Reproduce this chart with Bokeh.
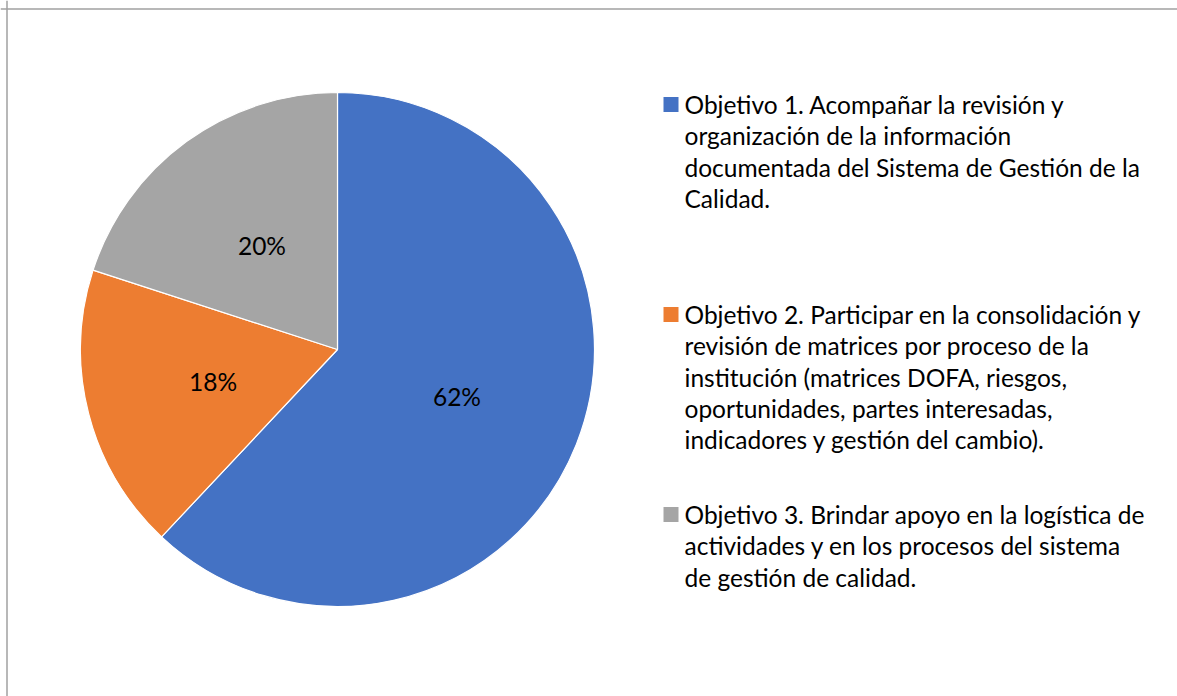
import numpy as np
from bokeh.plotting import figure
from bokeh.models import Range1d, Span
from bokeh.core.properties import value
from bokeh.embed import file_html
from bokeh.resources import INLINE

# ---- data ----
categories = [
    "Objetivo 1. Acompañar la revisión y\norganización de la información\ndocumentada del Sistema de Gestión de la\nCalidad.",
    "Objetivo 2. Participar en la consolidación y\nrevisión de matrices por proceso de la\ninstitución (matrices DOFA, riesgos,\noportunidades, partes interesadas,\nindicadores y gestión del cambio).",
    "Objetivo 3. Brindar apoyo en la logística de\nactividades y en los procesos del sistema\nde gestión de calidad.",
]
shares = [62, 18, 20]
pct_labels = ["62%", "18%", "20%"]
colors = ["#4472C4", "#ED7D31", "#A5A5A5"]

# ---- layout ----
W, H = 1177, 696
FONT = "Lato"
FS = "24.5px"
cx, cy, R = 337, H - 349, 257

p = figure(width=W, height=H, x_range=Range1d(0, W), y_range=Range1d(0, H),
           output_backend="svg", toolbar_location=None, min_border=0,
           x_axis_type=None, y_axis_type=None)
p.grid.visible = False
p.outline_line_color = None
p.background_fill_color = "white"
p.border_fill_color = "white"

# chart border (top and left visible in window)
p.add_layout(Span(location=H - 8.5, dimension="width", line_color="#A0A0A0", line_width=1.5))
p.add_layout(Span(location=6.5, dimension="height", line_color="#A0A0A0", line_width=1.5))

vals = np.array(shares, dtype=float)
frac = vals / vals.sum()
cum = np.cumsum(frac)
prev = np.concatenate([[0.0], cum[:-1]])
start = np.pi / 2 - 2 * np.pi * prev
end = np.pi / 2 - 2 * np.pi * cum

p.wedge(x=cx, y=cy, radius=R, start_angle=start, end_angle=end, direction="clock",
        fill_color=colors, line_color="white", line_width=1.2)

mid = (start + end) / 2
lx = cx + 0.5 * R * np.cos(mid)
ly = cy + 0.5 * R * np.sin(mid)
p.text(x=lx, y=ly, text=pct_labels, text_align="center", text_baseline="middle",
       text_font=value(FONT), text_font_size=FS, text_color="#000000")

# legend
square_centers = [104, 314, 514]  # page px (first line middle)
line_gap = 31.3
tx, ty, sx, sy = [], [], [], []
for i, lab in enumerate(categories):
    lines = lab.split("\n")
    c0 = square_centers[i]
    sx.append(670.5)
    sy.append(H - c0)
    for j, ln in enumerate(lines):
        tx.append(684)
        ty.append(H - (c0 + j * line_gap))

txt = [ln for lab in categories for ln in lab.split("\n")]
p.rect(x=sx, y=sy, width=15, height=15, fill_color=colors, line_color=None)
p.text(x=tx, y=ty, text=txt, text_align="left", text_baseline="middle",
       text_font=value(FONT), text_font_size=FS, text_color="#000000")

open("out.html", "w").write(file_html(p, INLINE))
